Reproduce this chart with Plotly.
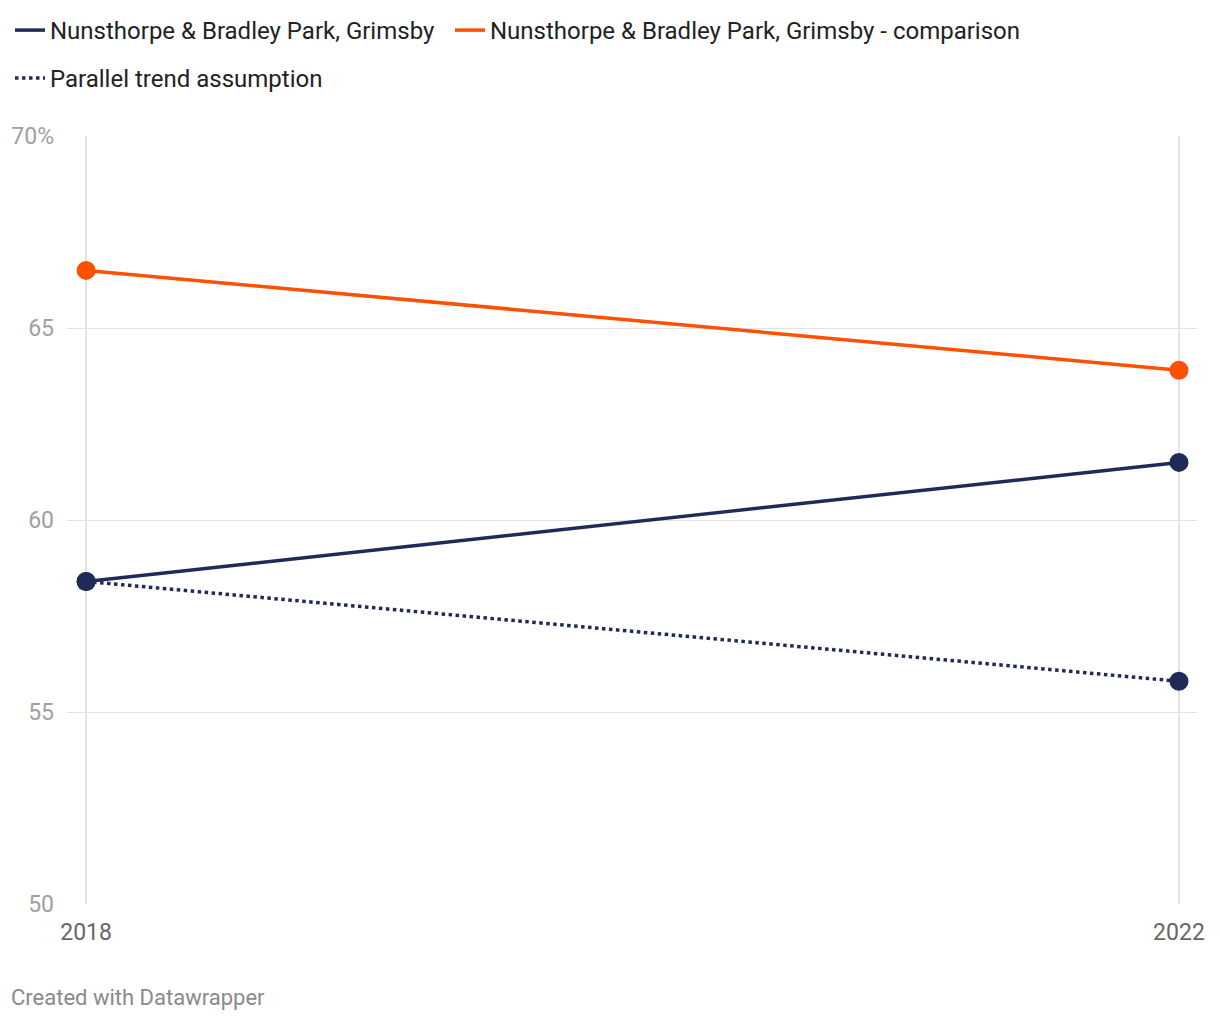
import plotly.graph_objects as go

years = [2018, 2022]
area_name = "Nunsthorpe & Bradley Park, Grimsby"
area_values = [58.4, 61.5]
comparison_name = "Nunsthorpe & Bradley Park, Grimsby - comparison"
comparison_values = [66.5, 63.9]
parallel_name = "Parallel trend assumption"
parallel_values = [58.4, 55.8]

y_tickvals = [50, 55, 60, 65, 70]
y_ticktext = ["50", "55", "60", "65", "70%"]

navy = "#1f2a58"
orange = "#ff5000"

series = [
    (area_name, area_values, navy, "solid", "legend"),
    (comparison_name, comparison_values, orange, "solid", "legend3"),
    (parallel_name, parallel_values, navy, "dot", "legend2"),
]

fig = go.Figure()

for name, vals, col, dash, leg in series:
    fig.add_trace(go.Scatter(x=years, y=vals, name=name, mode="lines+markers",
                             line=dict(color=col, width=3.5, dash=dash),
                             marker=dict(color=col, size=19),
                             showlegend=False))

# legend entries drawn as plain lines (no marker in the key)
for name, vals, col, dash, leg in series:
    fig.add_trace(go.Scatter(x=[None], y=[None], name=name, mode="lines",
                             line=dict(color=col, width=3.5, dash=dash),
                             legend=leg, showlegend=True))

leg_style = dict(orientation="h", xref="container", xanchor="left",
                 yref="container", yanchor="top",
                 font=dict(size=24, color="#222222"),
                 itemwidth=30, tracegroupgap=0)

# page body adds an 8px margin, so the figure is 8px smaller than the window
fig.update_layout(
    width=1212, height=1012,
    margin=dict(l=59, r=23, t=128, b=116, autoexpand=False),
    plot_bgcolor="white", paper_bgcolor="white",
    font=dict(family="Roboto", size=23, color="#333333"),
    showlegend=True,
    legend=dict(leg_style, x=2 / 1212, y=1),
    legend3=dict(leg_style, x=442 / 1212, y=1),
    legend2=dict(leg_style, x=2 / 1212, y=1 - 48 / 1012),
    xaxis=dict(range=[2017.93, 2022.066], tickvals=years, ticktext=["2018", "2022"],
               showgrid=True, gridcolor="#e3e3e3", gridwidth=2, zeroline=False,
               showline=False, ticklabelstandoff=12, automargin=False,
               tickfont=dict(size=23, color="#666666")),
    yaxis=dict(range=[50, 70], tickvals=y_tickvals, ticktext=y_ticktext,
               showgrid=True, gridcolor="#e3e3e3", gridwidth=1, zeroline=False,
               showline=False, ticklabelstandoff=12, automargin=False,
               tickfont=dict(size=23, color="#a0a0a0")),
    annotations=[dict(text="Created with Datawrapper", xref="paper", yref="paper",
                      x=-58 / 1130, y=-93 / 768, xanchor="left", yanchor="middle",
                      showarrow=False, font=dict(size=22, color="#8a8a8a"))],
)

fig.write_html("out.html")
